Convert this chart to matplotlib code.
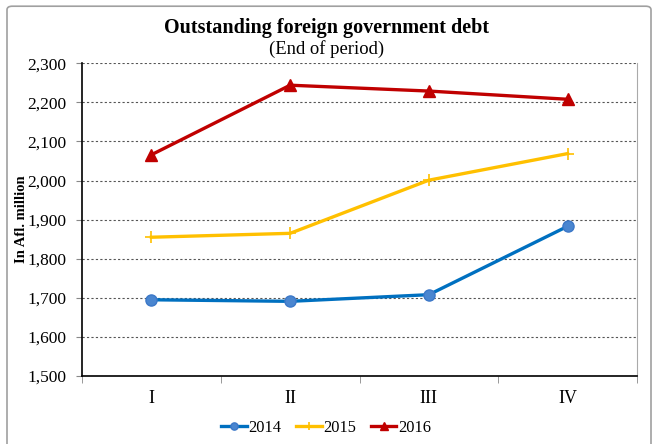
import matplotlib
matplotlib.use("Agg")
import matplotlib.pyplot as plt
from matplotlib.patches import FancyBboxPatch

plt.rcParams['font.family'] = ['Liberation Serif', 'DejaVu Serif']

# data
quarters = ['I', 'II', 'III', 'IV']
debt_2014 = [1695, 1691, 1708, 1883]
debt_2015 = [1855, 1865, 2001, 2069]
debt_2016 = [2066, 2244, 2229, 2208]
y_ticks = [1500, 1600, 1700, 1800, 1900, 2000, 2100, 2200, 2300]

fig = plt.figure(figsize=(6.54, 4.44), dpi=100)
ax = fig.add_axes([0.1254, 0.1532, 0.8486, 0.7042])

x = range(len(quarters))
ax.plot(x, debt_2014, color='#0070C0', lw=2.4, marker='o', ms=8,
        mfc='#4A86D0', mec='#3C78C8', label='2014', zorder=3)
ax.plot(x, debt_2015, color='#FFC000', lw=2.4, marker='+', ms=9,
        mew=1.2, label='2015', zorder=3)
ax.plot(x, debt_2016, color='#C00000', lw=2.4, marker='^', ms=8,
        mfc='#C00000', mec='#C00000', label='2016', zorder=3)

ax.set_xlim(-0.5, 3.5)
ax.set_ylim(1500, 2300)
ax.set_yticks(y_ticks)
ax.set_yticklabels([f'{v:,}' for v in y_ticks], fontsize=12.5)
ax.set_xticks(list(x))
ax.set_xticklabels(quarters, fontsize=13)
ax.tick_params(axis='x', length=0, pad=10)
ax.set_xticks([-0.5, 0.5, 1.5, 2.5, 3.5], minor=True)
ax.tick_params(axis='x', which='minor', length=5, color='#888888')
ax.tick_params(axis='y', length=4, direction='out', pad=7, color='#888888')
ax.grid(axis='y', linestyle=(0, (2, 2)), color='#555555', lw=0.8)
ax.set_axisbelow(True)

ax.spines['top'].set_visible(False)
ax.spines['right'].set_color('#AAAAAA')
ax.spines['left'].set_linewidth(1.2)
ax.spines['bottom'].set_linewidth(1.2)

ax.set_ylabel('In Afl. million', fontsize=10.5, fontweight='bold')
ax.yaxis.set_label_coords(-0.098, 0.5)

fig.text(0.5, 0.937, 'Outstanding foreign government debt', ha='center',
         va='center', fontsize=14.5, fontweight='bold')
fig.text(0.5, 0.890, '(End of period)', ha='center', va='center',
         fontsize=13.4)

ax.legend(loc='center', bbox_to_anchor=(0.44, -0.165), ncol=3,
          frameon=False, fontsize=11.8, handlelength=1.55, handletextpad=0.1,
          columnspacing=0.9, markerscale=0.65)

fig.patches.append(FancyBboxPatch((7 / 654, -0.02), 644 / 654, 1.006,
                                  boxstyle='round,pad=0,rounding_size=0.008',
                                  transform=fig.transFigure, fill=False,
                                  edgecolor='#A0A0A0', lw=1.2))

fig.savefig('out.png', dpi=100)
